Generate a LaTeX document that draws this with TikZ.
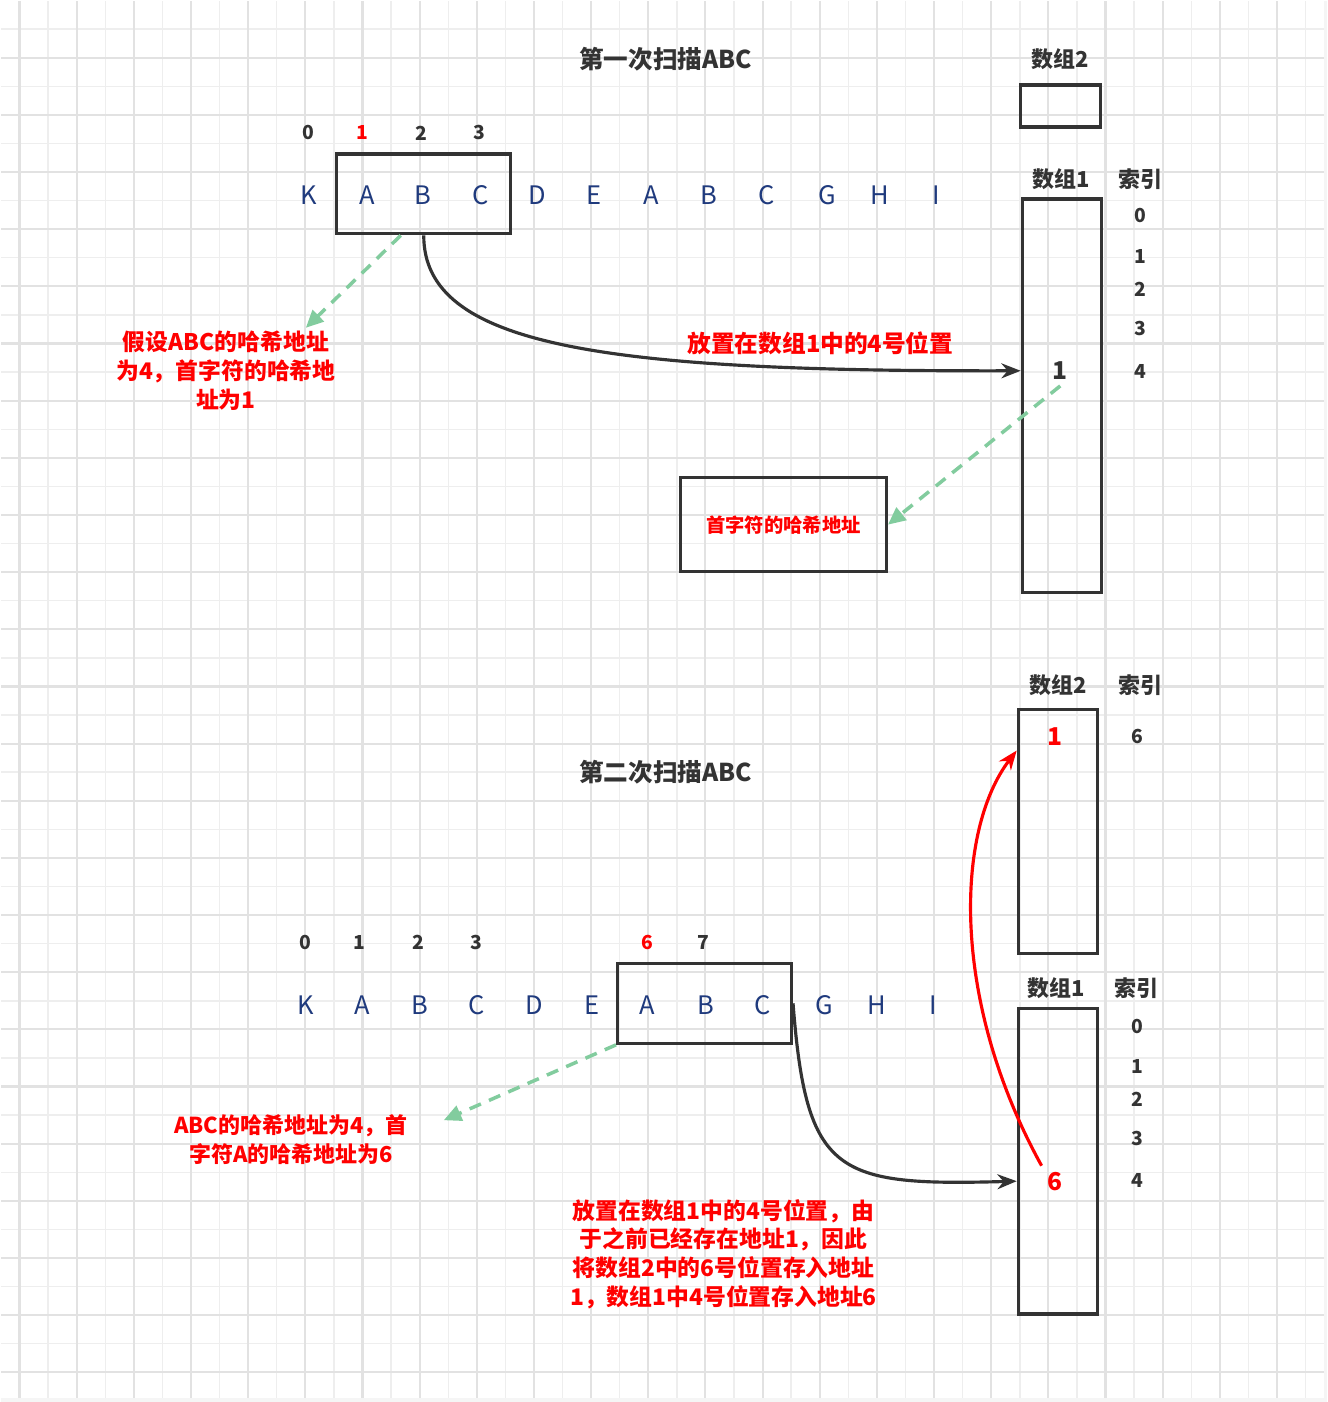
\documentclass[tikz,border=0pt]{standalone}
\usepackage{fontspec}
\setmainfont{Noto Sans CJK SC}
\usetikzlibrary{positioning, arrows.meta, calc}

\begin{document}
\begin{tikzpicture}[
    x=0.02cm, y=-0.02cm,
    % Estilos de nodos
    stitle/.style={
        font=\fontsize{14}{17}\selectfont\bfseries, text=txtgray
    },
    chr/.style={
        font=\fontsize{14.5}{17}\selectfont, text=letblue
    },
    idx/.style={
        font=\fontsize{11}{13}\selectfont\bfseries, text=#1
    },
    idx/.default=txtgray,
    val/.style={
        font=\fontsize{14}{17}\selectfont\bfseries, text=#1
    },
    val/.default=txtgray,
    hdr/.style={
        font=\fontsize{12.5}{15}\selectfont\bfseries, text=txtgray
    },
    note/.style={
        font=\fontsize{#1}{16.4}\selectfont\bfseries, text=notered, align=center
    },
    slot/.style={
        rectangle, draw=boxgray, line width=1.8pt, inner sep=0pt
    },
    flow/.style={
        -{Stealth[length=11pt, width=8.5pt]}, line width=1.8pt, draw=#1
    },
    hint/.style={
        -{Triangle[length=10pt, width=9pt]}, line width=2pt, draw=hintgreen,
        dash pattern=on 7pt off 5pt
    },
    gridmajor/.style={draw=gridmaj, line width=1.2pt},
    gridminor/.style={draw=gridmin, line width=0.8pt}
]

% ── Definir colores ──
\definecolor{gridmaj}{HTML}{E2E2E2}
\definecolor{gridmin}{HTML}{EEEEEE}
\definecolor{boxgray}{HTML}{333333}
\definecolor{txtgray}{HTML}{333333}
\definecolor{letblue}{HTML}{1F3A7D}
\definecolor{hintgreen}{HTML}{82CC9E}
\definecolor{notered}{HTML}{FF0000}

% ════════════════════════════════════════
% FONDO: cuadrícula
% ════════════════════════════════════════
\fill[white] (0,0) rectangle (1327,1402);
\fill[gray!8] (1324,0) rectangle (1327,1402);
\fill[gray!8] (0,1398) rectangle (1327,1402);
\foreach \gx in {47.1,104.3,...,1324} \draw[gridminor] (\gx,0) -- (\gx,1398);
\foreach \gy in {28.1,85.3,...,1398}  \draw[gridminor] (0,\gy) -- (1324,\gy);
\foreach \gx in {18.5,75.7,...,1324}  \draw[gridmajor] (\gx,0) -- (\gx,1398);
\foreach \gy in {56.7,113.9,...,1398} \draw[gridmajor] (0,\gy) -- (1324,\gy);
\useasboundingbox (0,0) rectangle (1327,1402);

% ════════════════════════════════════════
% PRIMER ESCANEO
% ════════════════════════════════════════
\node[stitle] (t1) at (665,58) {第一次扫描ABC};

% índices de la cadena
\node[idx]         (ia0) at (308,132) {0};
\node[idx=notered] (ia1) at (362,132) {1};
\node[idx]         (ia2) at (421,132) {2};
\node[idx]         (ia3) at (479,132) {3};

% cadena
\node[chr] (sa0)  at (308,194) {K};
\node[chr] (sa1)  at (366,194) {A};
\node[chr] (sa2)  at (422,194) {B};
\node[chr] (sa3)  at (480,194) {C};
\node[chr] (sa4)  at (537,194) {D};
\node[chr] (sa5)  at (593,194) {E};
\node[chr] (sa6)  at (651,194) {A};
\node[chr] (sa7)  at (708,194) {B};
\node[chr] (sa8)  at (766,194) {C};
\node[chr] (sa9)  at (827,194) {G};
\node[chr] (sa10) at (879,194) {H};
\node[chr] (sa11) at (936,194) {I};

% ventana ABC
\node[slot, minimum width=3.48cm, minimum height=1.6cm] (box1) at (423,193) {};

% arreglos
\node[hdr] (lblB1) at (1060,58) {数组2};
\node[slot, minimum width=1.6cm, minimum height=0.84cm] (arrB1) at (1060,105) {};

\node[hdr] (lblA1) at (1061,178) {数组1};
\node[hdr] (idxA1) at (1140,178) {索引};
\node[slot, minimum width=1.58cm, minimum height=7.88cm] (arrA1) at (1061.5,395) {};

\node[idx] (ja0) at (1140,215) {0};
\node[idx] (ja1) at (1140,256) {1};
\node[idx] (ja2) at (1140,289) {2};
\node[idx] (ja3) at (1140,328) {3};
\node[idx] (ja4) at (1140,371) {4};

\node[val] (valA1) at (1060,370) {1};

% caja de dirección
\node[slot, minimum width=4.12cm, minimum height=1.88cm,
      font=\fontsize{11}{13}\selectfont\bfseries, text=notered] (hbox) at (783,524) {首字符的哈希地址};

% notas
\node[note=13] (note1) at (225,370) {假设ABC的哈希地址\\为4，首字符的哈希地\\址为1};
\node[note=13.5] (note2) at (820,343) {放置在数组1中的4号位置};

% flechas
\coordinate (tipA) at (305,327);
\draw[hint] ($(box1.south west)!0.37!(box1.south east)$) -- (tipA);
\draw[flow=boxgray] (box1.south) .. controls (423,345) and (600,371) .. (arrA1.west |- valA1);
\draw[hint] (valA1.south) -- (hbox.east);

% ════════════════════════════════════════
% SEGUNDO ESCANEO
% ════════════════════════════════════════
\node[stitle] (t2) at (665,772) {第二次扫描ABC};

% arreglo 2
\node[hdr] (lblB2) at (1058,685) {数组2};
\node[hdr] (idxB2) at (1140,685) {索引};
\node[slot, minimum width=1.58cm, minimum height=4.88cm] (arrB2) at (1057.5,831) {};
\node[val=notered] (valB2) at (1055,736) {1};
\node[idx] (jb6) at (1137,736) {6};

% índices de la cadena
\node[idx]         (ib0) at (305,942) {0};
\node[idx]         (ib1) at (359,942) {1};
\node[idx]         (ib2) at (418,942) {2};
\node[idx]         (ib3) at (476,942) {3};
\node[idx=notered] (ib6) at (647,942) {6};
\node[idx]         (ib7) at (703,942) {7};

% cadena
\node[chr] (sb0)  at (305,1005) {K};
\node[chr] (sb1)  at (361,1005) {A};
\node[chr] (sb2)  at (419,1005) {B};
\node[chr] (sb3)  at (476,1005) {C};
\node[chr] (sb4)  at (534,1005) {D};
\node[chr] (sb5)  at (591,1005) {E};
\node[chr] (sb6)  at (647,1005) {A};
\node[chr] (sb7)  at (705,1005) {B};
\node[chr] (sb8)  at (762,1005) {C};
\node[chr] (sb9)  at (824,1005) {G};
\node[chr] (sb10) at (876,1005) {H};
\node[chr] (sb11) at (933,1005) {I};

% ventana ABC
\node[slot, minimum width=3.48cm, minimum height=1.6cm] (box2) at (704,1003) {};

% arreglo 1
\node[hdr] (lblA2) at (1056,988) {数组1};
\node[hdr] (idxA2) at (1136,988) {索引};
\node[slot, minimum width=1.58cm, minimum height=6.12cm] (arrA2) at (1057.5,1161) {};

\node[idx] (jc0) at (1137,1026) {0};
\node[idx] (jc1) at (1137,1066) {1};
\node[idx] (jc2) at (1137,1099) {2};
\node[idx] (jc3) at (1137,1138) {3};
\node[idx] (jc4) at (1137,1180) {4};

\node[val=notered] (valA2) at (1055,1181) {6};

% notas
\node[note=12.5] (note3) at (290,1139) {ABC的哈希地址为4，首\\字符A的哈希地址为6};
\node[note=13] (note4) at (723,1254) {放置在数组1中的4号位置，由\\于之前已经存在地址1，因此\\将数组2中的6号位置存入地址\\1，数组1中4号位置存入地址6};

% flechas
\coordinate (tipB) at (443,1120);
\draw[hint] (box2.south west) -- (tipB);
\draw[flow=boxgray] (box2.east) .. controls (806,1175) and (835,1186) .. (arrA2.west |- valA2);
\draw[flow=notered] (valA2.north west) .. controls (950,1000) and (955,830) .. ($(arrB2.west |- valB2)+(0,14)$);

\end{tikzpicture}
\end{document}
